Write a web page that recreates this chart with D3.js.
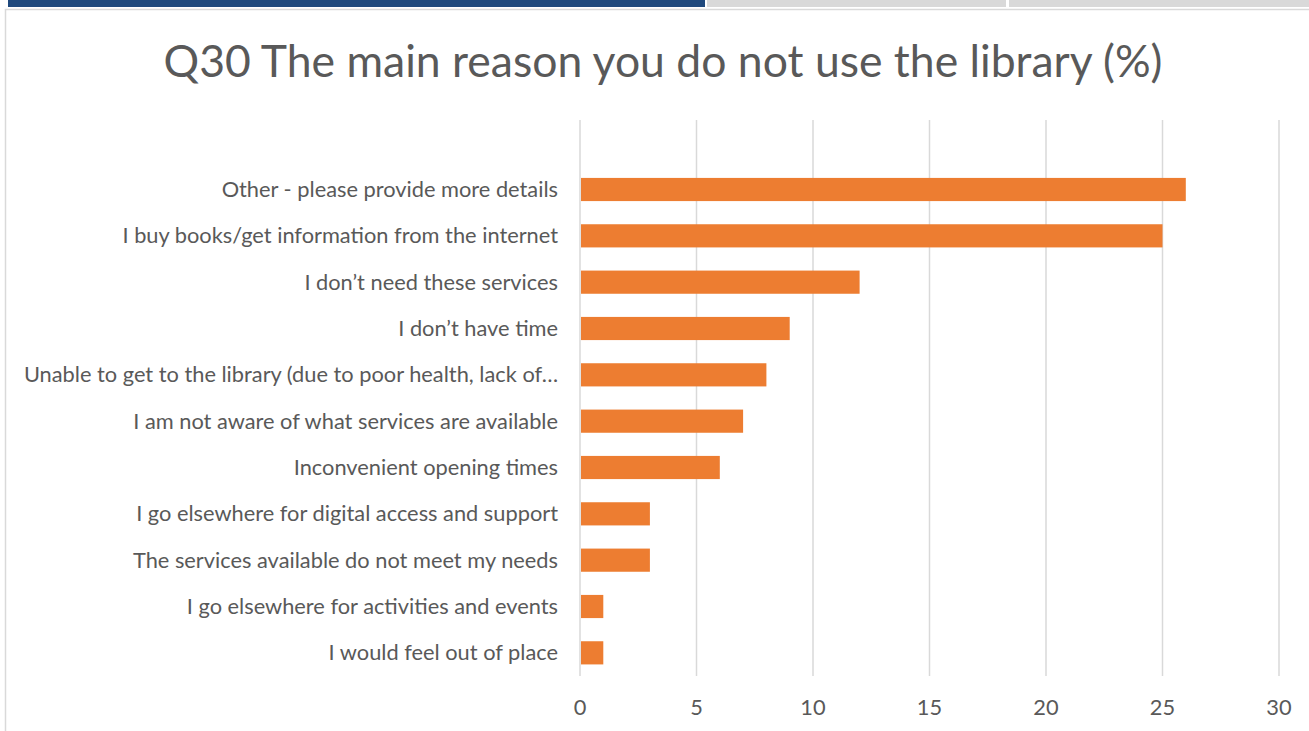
<!DOCTYPE html>
<html>
<head>
<meta charset="utf-8">
<script src="https://cdn.jsdelivr.net/npm/d3@7"></script>
<style>
  html, body { margin: 0; padding: 0; background: #fff; }
  svg { display: block; }
</style>
</head>
<body>
<div id="chart"></div>
<script>
// データ (上から順)
var categories = [
  '',
  'Other - please provide more details',
  'I buy books/get information from the internet',
  'I don\u2019t need these services',
  'I don\u2019t have time',
  'Unable to get to the library (due to poor health, lack of\u2026',
  'I am not aware of what services are available',
  'Inconvenient opening times',
  'I go elsewhere for digital access and support',
  'The services available do not meet my needs',
  'I go elsewhere for activities and events',
  'I would feel out of place'
]
var values = [null, 26, 25, 12, 9, 8, 7, 6, 3, 3, 1, 1]
var xTicks = [0, 5, 10, 15, 20, 25, 30]
var title = 'Q30 The main reason you do not use the library (%)'

var width = 1309, height = 731
var margin = { top: 120, right: 30, bottom: 55, left: 580 }
var font = 'Lato, "Open Sans", sans-serif'

var svg = d3.select('#chart').append('svg')
  .attr('width', width)
  .attr('height', height)

// 上部のタブ風バー
svg.append('rect').attr('x', 8).attr('y', 0).attr('width', 697).attr('height', 7).attr('fill', '#1f497d')
svg.append('rect').attr('x', 707).attr('y', 0).attr('width', 299).attr('height', 7).attr('fill', '#d9d9d9')
svg.append('rect').attr('x', 1009).attr('y', 0).attr('width', 300).attr('height', 7).attr('fill', '#d9d9d9')

// チャート枠
svg.append('path')
  .attr('d', 'M5.5,' + height + ' L5.5,9.5 L' + width + ',9.5')
  .attr('fill', 'none')
  .attr('stroke', '#d9d9d9')
  .attr('stroke-width', 1.5)

// タイトル
svg.append('text')
  .attr('x', 663)
  .attr('y', 77)
  .attr('text-anchor', 'middle')
  .attr('font-family', font)
  .attr('font-size', 44.5)
  .attr('fill', '#595959')
  .text(title)

var x = d3.scaleLinear()
  .domain([0, 30])
  .range([margin.left, width - margin.right])

var y = d3.scaleBand()
  .domain(d3.range(categories.length))
  .range([margin.top, height - margin.bottom])
  .paddingInner(0.5)
  .paddingOuter(0.25)

// グリッド線
svg.append('g')
  .selectAll('line')
  .data(xTicks)
  .enter()
  .append('line')
  .attr('x1', function(d) { return x(d) })
  .attr('x2', function(d) { return x(d) })
  .attr('y1', margin.top)
  .attr('y2', height - margin.bottom)
  .attr('stroke', '#d9d9d9')
  .attr('stroke-width', 1.5)

// バー (値のある行だけ)
var rows = d3.range(categories.length).filter(function(i) { return values[i] != null })

svg.append('g')
  .selectAll('rect')
  .data(rows)
  .enter()
  .append('rect')
  .attr('x', x(0) + 1)
  .attr('y', function(i) { return y(i) })
  .attr('width', function(i) { return x(values[i]) - x(0) - 1 })
  .attr('height', y.bandwidth())
  .attr('fill', '#ed7d31')

// カテゴリラベル
svg.append('g')
  .selectAll('text')
  .data(categories)
  .enter()
  .append('text')
  .attr('x', margin.left - 22)
  .attr('y', function(d, i) { return y(i) + y.bandwidth() / 2 })
  .attr('dy', '0.35em')
  .attr('text-anchor', 'end')
  .attr('font-family', font)
  .attr('font-size', 21.8)
  .attr('fill', '#595959')
  .text(function(d) { return d })

// x軸ラベル
svg.append('g')
  .selectAll('text')
  .data(xTicks)
  .enter()
  .append('text')
  .attr('x', function(d) { return x(d) })
  .attr('y', 715)
  .attr('text-anchor', 'middle')
  .attr('font-family', font)
  .attr('font-size', 21.8)
  .attr('fill', '#595959')
  .text(function(d) { return d })
</script>
</body>
</html>
